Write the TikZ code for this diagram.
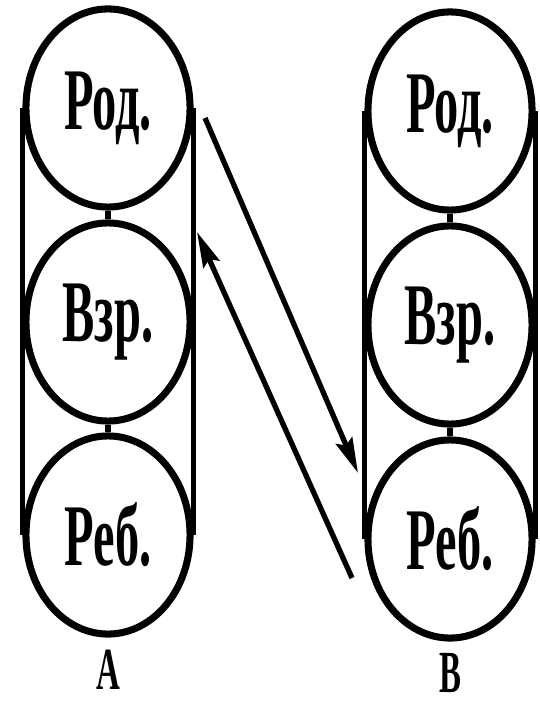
\documentclass[tikz,border=0pt]{standalone}
\usepackage{fontspec}
\usepackage{graphicx}
\setmainfont{Liberation Serif}
\usetikzlibrary{arrows.meta,shapes.geometric}
\newcommand{\narrow}[1]{\scalebox{0.55}[1]{\bfseries #1}}
\tikzset{
  ego/.style={draw, ellipse, line width=2pt, inner sep=0pt,
    minimum width=1.64cm, minimum height=1.98cm,
    font=\fontsize{25}{25}\selectfont},
  side/.style={line width=1.5pt},
  trans/.style={line width=1.5pt, -{Stealth[length=10pt,width=5pt,inset=1.5pt]}},
  who/.style={font=\fontsize{17}{17}\selectfont}
}
\begin{document}
\begin{tikzpicture}[x=0.01cm, y=-0.01cm]
  \useasboundingbox (0,0) rectangle (539,704);
  % person A
  \node[ego] (rodA) at (108,108) {\narrow{Род.}};
  \node[ego] (vzrA) at (108,322) {\narrow{Взр.}};
  \node[ego] (rebA) at (108,535) {\narrow{Реб.}};
  \draw[side] (rodA.west) -- (rebA.west);
  \draw[side] (rodA.east) -- (rebA.east);
  \draw[side] (rodA.south) -- (vzrA.north);
  \draw[side] (vzrA.south) -- (rebA.north);
  \node[who] (A) at (108,670) {\narrow{А}};
  % person B
  \node[ego] (rodB) at (450,111) {\narrow{Род.}};
  \node[ego] (vzrB) at (450,325) {\narrow{Взр.}};
  \node[ego] (rebB) at (450,539) {\narrow{Реб.}};
  \draw[side] (rodB.west) -- (rebB.west);
  \draw[side] (rodB.east) -- (rebB.east);
  \draw[side] (rodB.south) -- (vzrB.north);
  \draw[side] (vzrB.south) -- (rebB.north);
  \node[who] (B) at (450,673) {\narrow{В}};
  % transactions
  \coordinate (s1) at (205,118);
  \coordinate (e1) at (358,473);
  \coordinate (s2) at (352,578);
  \coordinate (e2) at (197,232);
  \draw[trans] (s1) -- (e1);
  \draw[trans] (s2) -- (e2);
\end{tikzpicture}
\end{document}
